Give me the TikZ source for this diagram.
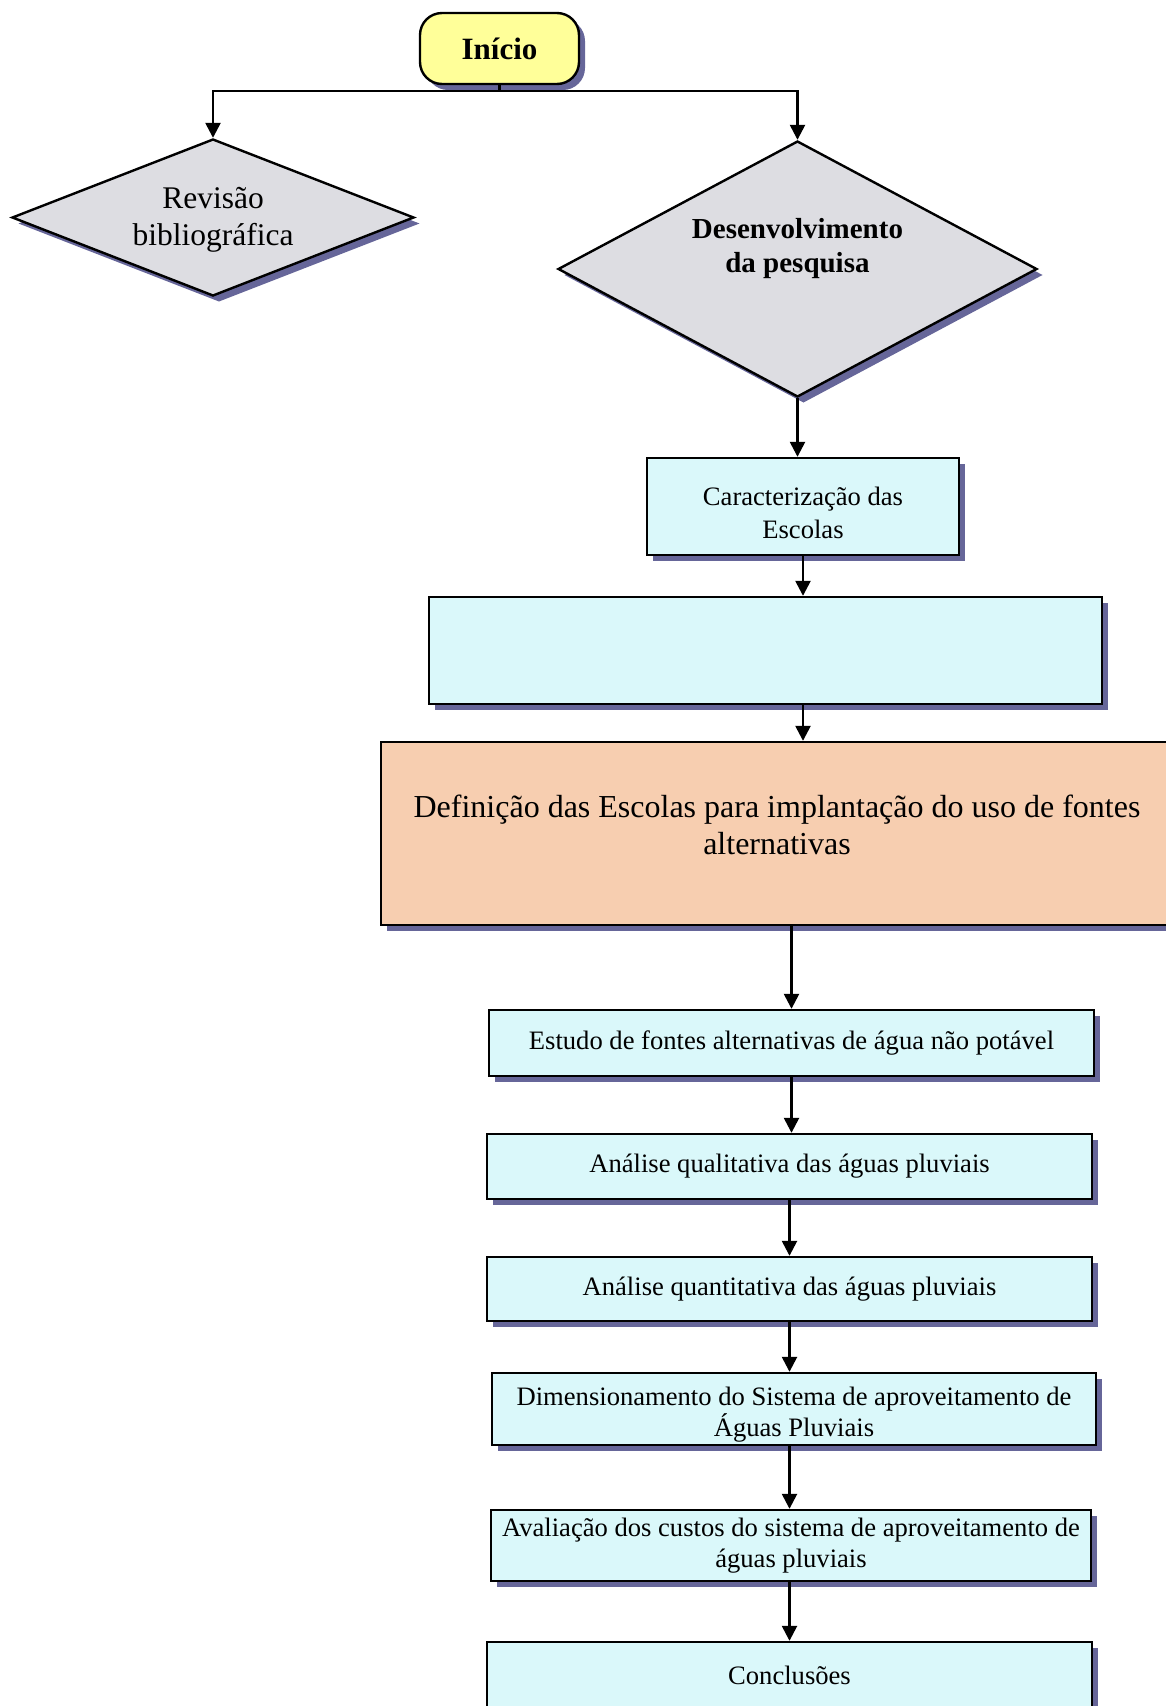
\documentclass[tikz,border=0pt]{standalone}
\usepackage{fontspec}
\setmainfont{Liberation Serif}
\usetikzlibrary{shapes.geometric,shadows,arrows.meta}

\definecolor{amarelo}{HTML}{FFFF99}
\definecolor{cinza}{HTML}{DDDDE2}
\definecolor{ciano}{HTML}{DAF8FA}
\definecolor{laranja}{HTML}{F7CEB0}
\definecolor{sombra}{HTML}{666699}

\begin{document}
\begin{tikzpicture}[x=1pt, y=-1pt,
        sombreado/.style={drop shadow={shadow xshift=6pt, shadow yshift=-6pt, fill=sombra, opacity=1}},
        texto/.style={align=center, font=\fontsize{26.6}{31}\selectfont},
        caixa/.style={draw, line width=2.4pt, fill=ciano, inner sep=0pt, texto, sombreado},
        losango/.style={diamond, draw, line width=2.4pt, fill=cinza, inner sep=0pt, align=center, sombreado},
        seta/.style={line width=2.5pt, -{Triangle[length=15pt, width=15pt]}}]
        \useasboundingbox (0, 0) rectangle (1166, 1706);

        \node[draw, line width=2.4pt, fill=amarelo, rounded corners=22pt, sombreado,
            minimum width=159pt, minimum height=71pt, font=\fontsize{31}{36}\selectfont\bfseries]
            (inicio) at (499.5, 48.5) {Início};
        \node[losango, aspect=2.56, minimum width=402pt, minimum height=157pt,
            label={[yshift=-2pt, align=center, font=\fontsize{31.5}{37}\selectfont]center:Revisão\\bibliográfica}]
            (revisao) at (213, 217.5) {};
        \node[losango, minimum width=479pt, minimum height=256pt,
            label={[yshift=20pt, align=center, font=\fontsize{29}{34}\selectfont\bfseries]center:Desenvolvimento\\da pesquisa}]
            (desenv) at (797.5, 269) {};

        \node[caixa, minimum width=312pt, minimum height=97pt,
            label={[texto, yshift=-6pt, font=\fontsize{26.6}{33}\selectfont]center:Caracterização das\\Escolas}]
            (caract) at (803, 506.5) {};
        \node[caixa, minimum width=673pt, minimum height=107pt] (vazio) at (765.5, 650.5) {};
        \node[caixa, fill=laranja, minimum width=792pt, minimum height=183pt,
            label={[texto, yshift=9pt, font=\fontsize{32}{37}\selectfont]center:Definição das Escolas para implantação do uso de fontes\\alternativas}]
            (defin) at (777, 833.5) {};
        \node[caixa, minimum width=605pt, minimum height=66pt] (estudo) at (791.5, 1043)
            {Estudo de fontes alternativas de água não potável};
        \node[caixa, minimum width=605pt, minimum height=65pt] (qualit) at (789.5, 1166.5)
            {Análise qualitativa das águas pluviais};
        \node[caixa, minimum width=605pt, minimum height=64pt] (quantit) at (789.5, 1289)
            {Análise quantitativa das águas pluviais};
        \node[caixa, minimum width=604pt, minimum height=72pt,
            label={[texto, yshift=-6pt]center:Dimensionamento do Sistema de aproveitamento de\\Águas Pluviais}]
            (dimens) at (794, 1409) {};
        \node[caixa, minimum width=600pt, minimum height=71pt] (avalia) at (791, 1545.5)
            {Avaliação dos custos do sistema de aproveitamento de\\águas pluviais};
        \node[caixa, minimum width=605pt, minimum height=66pt] (concl) at (789.5, 1675) {Conclusões};

        \draw[line width=2.5pt] (inicio.south) -- ++(0, 6) coordinate (ramo); % bifurcação
        \draw[seta] (ramo) -| (revisao.north);
        \draw[seta] (ramo) -| (desenv.north);
        \draw[seta] (desenv.south) -- (desenv.south |- caract.north);
        \draw[seta] (caract.south) -- (caract.south |- vazio.north);
        \draw[seta] (vazio.south -| caract.south) -- (caract.south |- defin.north);
        \draw[seta] (estudo.north |- defin.south) -- (estudo.north);
        \draw[seta] (estudo.south) -- (estudo.south |- qualit.north);
        \draw[seta] (qualit.south) -- (qualit.south |- quantit.north);
        \draw[seta] (quantit.south) -- (quantit.south |- dimens.north);
        \draw[seta] (dimens.south -| quantit.south) -- (quantit.south |- avalia.north);
        \draw[seta] (avalia.south -| quantit.south) -- (quantit.south |- concl.north);
    \end{tikzpicture}
\end{document}
